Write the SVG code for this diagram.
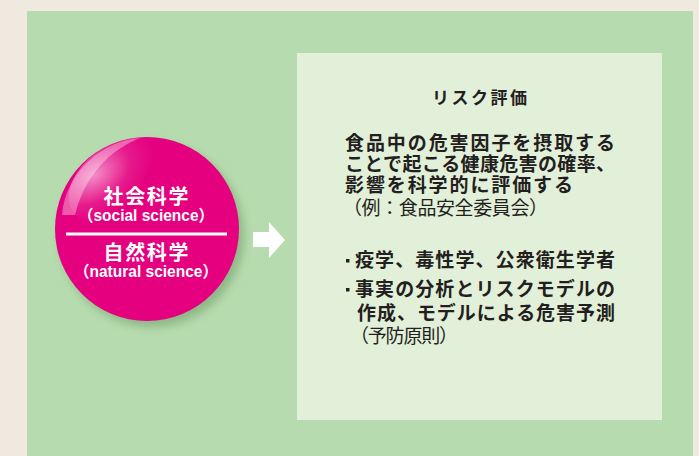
<svg xmlns="http://www.w3.org/2000/svg" width="699" height="456" viewBox="0 0 699 456">
<defs>
<style>
.jp{font-family:"Noto Sans CJK JP","Noto Sans CJK SC",sans-serif;fill:#231f20}
.b{font-weight:bold}
.w{fill:#ffffff;font-family:"Liberation Sans","Noto Sans CJK JP",sans-serif;font-weight:bold;text-anchor:middle}
</style>
<radialGradient id="gloss" cx="0.35" cy="0.25" r="0.6">
<stop offset="0" stop-color="#ffffff" stop-opacity="0.55"/>
<stop offset="0.6" stop-color="#ffffff" stop-opacity="0.1"/>
<stop offset="1" stop-color="#ffffff" stop-opacity="0"/>
</radialGradient>
<filter id="blur" x="-20%" y="-20%" width="140%" height="140%"><feGaussianBlur stdDeviation="4"/></filter>
</defs>
<rect width="699" height="456" fill="#efe9df"/>
<rect x="27" y="11" width="666" height="445" fill="#b6dbae"/>
<g id="button">
<circle cx="152" cy="235" r="92" fill="#6e9a66" opacity="0.55" filter="url(#blur)"/>
<circle cx="147" cy="229" r="92" fill="#e4007f"/>
<path d="M62,215 C66,170 105,140 140,138 C110,150 85,175 75,215 Z" fill="#ffffff" opacity="0.35"/>
<ellipse cx="118" cy="180" rx="55" ry="35" fill="url(#gloss)" transform="rotate(-35 118 180)"/>
<line x1="66" y1="234" x2="227" y2="234" stroke="#ffffff" stroke-width="3"/>
<text class="w" x="146" y="204" font-size="20" textLength="85" lengthAdjust="spacing">社会科学</text>
<text class="w" x="146" y="221" font-size="16" textLength="136" lengthAdjust="spacingAndGlyphs">（social science）</text>
<text class="w" x="146" y="260" font-size="20" textLength="85" lengthAdjust="spacing">自然科学</text>
<text class="w" x="146" y="277" font-size="16" textLength="144" lengthAdjust="spacingAndGlyphs">（natural science）</text>
</g>
<g id="connectors">
<polygon points="253,232 269,232 269,222 285,240 269,258 269,247 253,247" fill="#ffffff"/>
</g>
<g id="risk-box">
<rect x="297" y="53" width="365" height="367" fill="#e3f0d9"/>
<text class="jp b" x="432" y="104" font-size="17" textLength="95" lengthAdjust="spacing">リスク評価</text>
<text class="jp b" x="345" y="150" font-size="19" textLength="270" lengthAdjust="spacing">食品中の危害因子を摂取する</text>
<text class="jp b" x="345" y="171" font-size="19" textLength="270" lengthAdjust="spacing">ことで起こる健康危害の確率、</text>
<text class="jp b" x="345" y="192" font-size="19" textLength="228" lengthAdjust="spacing">影響を科学的に評価する</text>
<text class="jp" x="343" y="215" font-size="19" textLength="205" lengthAdjust="spacing">（例：食品安全委員会）</text>
<rect x="346" y="259" width="3.5" height="3.5" fill="#231f20"/>
<text class="jp b" x="355" y="267" font-size="19" textLength="260" lengthAdjust="spacing">疫学、毒性学、公衆衛生学者</text>
<rect x="346" y="288" width="3.5" height="3.5" fill="#231f20"/>
<text class="jp b" x="355" y="296" font-size="19" textLength="260" lengthAdjust="spacing">事実の分析とリスクモデルの</text>
<text class="jp b" x="357" y="320" font-size="19" textLength="258" lengthAdjust="spacing">作成、モデルによる危害予測</text>
<text class="jp" x="350" y="343" font-size="19" textLength="108" lengthAdjust="spacing">（予防原則）</text>
</g>
</svg>
